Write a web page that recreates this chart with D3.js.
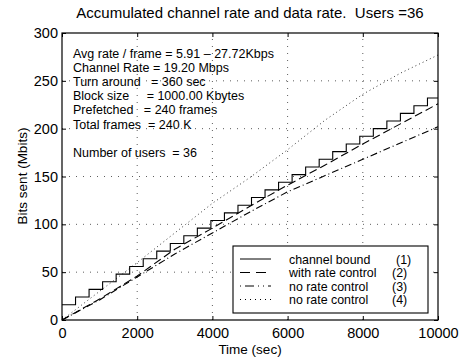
<!DOCTYPE html>
<html>
<head>
<meta charset="utf-8">
<script src="https://cdn.jsdelivr.net/npm/d3@7"></script>
<style>
  body { margin: 0; background: #fff; }
  svg text { font-family: "Liberation Sans", Arial, Helvetica, sans-serif; fill: #000; }
</style>
</head>
<body>
<div id="chart"></div>
<script>
// channel bound staircase (time in sec, Mbits)
var stairTimes = [0, 360, 720, 1080, 1440, 1800, 2160, 2520, 2880, 3240, 3600, 3960, 4320, 4680,
    5040, 5400, 5760, 6120, 6480, 6840, 7200, 7560, 7920, 8280, 8640, 9000, 9360, 9720, 10000];
var stairValues = [16, 24, 32, 40, 48, 56, 64, 72, 80, 88, 96, 104, 112, 120,
    128, 136, 144, 152, 160, 168, 176, 184, 192, 200, 208, 216, 224, 232, 232];

var timePoints = [0, 1000, 2000, 3000, 4000, 5000, 6000, 7000, 8000, 9000, 10000];
var withRateControl = [0, 22, 46, 74, 96, 119, 141, 162, 184, 205, 226];
var noRateControl3 = [0, 21, 45, 69, 91, 113, 134, 151, 168, 185, 202];
var noRateControl4 = [0, 30, 60, 91, 122, 149, 178, 209, 236, 258, 277];

var xTicks = [0, 2000, 4000, 6000, 8000, 10000];
var yTicks = [0, 50, 100, 150, 200, 250, 300];

var legendLabels = ["channel bound", "with rate control", "no rate control", "no rate control"];
var legendNumbers = ["(1)", "(2)", "(3)", "(4)"];
var infoLines = [
    "Avg rate / frame = 5.91 \u2013 27.72Kbps",
    "Channel Rate = 19.20 Mbps",
    "Turn around   = 360 sec",
    "Block size     = 1000.00 Kbytes",
    "Prefetched   = 240 frames",
    "Total frames  = 240 K",
    "",
    "Number of users  = 36"
];

var width = 464, height = 358,
    margin = {top: 33, right: 26, bottom: 38, left: 62};

var svg = d3.select("#chart").append("svg")
    .attr("width", width).attr("height", height);

var x = d3.scaleLinear().domain([0, 10000]).range([margin.left, width - margin.right]),
    y = d3.scaleLinear().domain([0, 300]).range([height - margin.bottom, margin.top]);

// dotted grid
svg.append("g").selectAll("line").data(xTicks.slice(1, -1)).enter().append("line")
    .attr("x1", d => x(d)).attr("x2", d => x(d))
    .attr("y1", y(0)).attr("y2", y(300))
    .attr("stroke", "#333").attr("stroke-width", 0.8).attr("stroke-dasharray", "1,6");
svg.append("g").selectAll("line").data(yTicks.slice(1, -1)).enter().append("line")
    .attr("x1", x(0)).attr("x2", x(10000))
    .attr("y1", d => y(d)).attr("y2", d => y(d))
    .attr("stroke", "#333").attr("stroke-width", 0.8).attr("stroke-dasharray", "1,6");

// axes, ticks pointing inward
var xAxis = svg.append("g").attr("transform", "translate(0," + y(0) + ")")
    .call(d3.axisBottom(x).tickValues(xTicks).tickFormat(d3.format("d"))
        .tickSizeInner(-4).tickSizeOuter(0).tickPadding(8));
var yAxis = svg.append("g").attr("transform", "translate(" + x(0) + ",0)")
    .call(d3.axisLeft(y).tickValues(yTicks).tickFormat(d3.format("d"))
        .tickSizeInner(-4).tickSizeOuter(0).tickPadding(4));
var xTop = svg.append("g").attr("transform", "translate(0," + y(300) + ")")
    .call(d3.axisTop(x).tickValues(xTicks).tickSizeInner(-4).tickSizeOuter(0).tickFormat(""));
var yRight = svg.append("g").attr("transform", "translate(" + x(10000) + ",0)")
    .call(d3.axisRight(y).tickValues(yTicks).tickSizeInner(-4).tickSizeOuter(0).tickFormat(""));

[xAxis, yAxis, xTop, yRight].forEach(a => {
    a.select(".domain").remove();
    a.selectAll("text").style("font-size", "14.5px")
        .style("font-family", "'Liberation Sans', Arial, sans-serif");
});

// data lines
var stairData = stairTimes.map((t, i) => [t, stairValues[i]]);
var stairLine = d3.line().x(d => x(d[0])).y(d => y(d[1])).curve(d3.curveStepAfter);
var plainLine = d3.line().x(d => x(d[0])).y(d => y(d[1]));

svg.append("path").datum(timePoints.map((t, i) => [t, noRateControl4[i]]))
    .attr("d", plainLine).attr("fill", "none")
    .attr("stroke", "#222").attr("stroke-width", 0.9).attr("stroke-dasharray", "1,3");
svg.append("path").datum(timePoints.map((t, i) => [t, noRateControl3[i]]))
    .attr("d", plainLine).attr("fill", "none")
    .attr("stroke", "#000").attr("stroke-width", 1.1).attr("stroke-dasharray", "7,3,1,3");
svg.append("path").datum(timePoints.map((t, i) => [t, withRateControl[i]]))
    .attr("d", plainLine).attr("fill", "none")
    .attr("stroke", "#000").attr("stroke-width", 1.1).attr("stroke-dasharray", "8,4");
svg.append("path").datum(stairData)
    .attr("d", stairLine).attr("fill", "none")
    .attr("stroke", "#000").attr("stroke-width", 1.1);

// frame
svg.append("rect").attr("x", x(0)).attr("y", y(300))
    .attr("width", x(10000) - x(0)).attr("height", y(0) - y(300))
    .attr("fill", "none").attr("stroke", "#000").attr("stroke-width", 1.2);

// info text
svg.append("g").selectAll("text").data(infoLines).enter().append("text")
    .attr("x", 73).attr("y", (d, i) => 57.5 + i * 14.2)
    .style("font-size", "12.5px").style("white-space", "pre")
    .text(d => d);

// legend
var legend = svg.append("g").attr("transform", "translate(233,246)");
legend.append("rect").attr("width", 195).attr("height", 67)
    .attr("fill", "#fff").attr("stroke", "#000").attr("stroke-width", 1.1);
var dashes = [null, "10,6", "1,4,9,4,1,4", "1,4"];
legend.selectAll(".legendLine").data(dashes).enter().append("line")
    .attr("class", "legendLine")
    .attr("x1", 7).attr("x2", 38)
    .attr("y1", (d, i) => 13 + i * 13.5).attr("y2", (d, i) => 13 + i * 13.5)
    .attr("stroke", "#000").attr("stroke-width", 1)
    .attr("stroke-dasharray", d => d);
legend.selectAll(".legendText").data(legendLabels).enter().append("text")
    .attr("class", "legendText")
    .attr("x", 56).attr("y", (d, i) => 17.5 + i * 13.5)
    .style("font-size", "12.4px").text(d => d);
legend.selectAll(".legendNum").data(legendNumbers).enter().append("text")
    .attr("class", "legendNum")
    .attr("x", (d, i) => i == 0 ? 163 : 159).attr("y", (d, i) => 17.5 + i * 13.5)
    .style("font-size", "12.4px").text(d => d);

// titles
svg.append("text").attr("x", 250).attr("y", 18).attr("text-anchor", "middle")
    .style("font-size", "15px")
    .style("white-space", "pre")
    .text("Accumulated channel rate and data rate.  Users =36");
svg.append("text").attr("x", 250).attr("y", 354).attr("text-anchor", "middle")
    .style("font-size", "13.5px").text("Time (sec)");
svg.append("text").attr("transform", "translate(27,176) rotate(-90)")
    .attr("text-anchor", "middle")
    .style("font-size", "13.5px").text("Bits sent (Mbits)");
</script>
</body>
</html>
